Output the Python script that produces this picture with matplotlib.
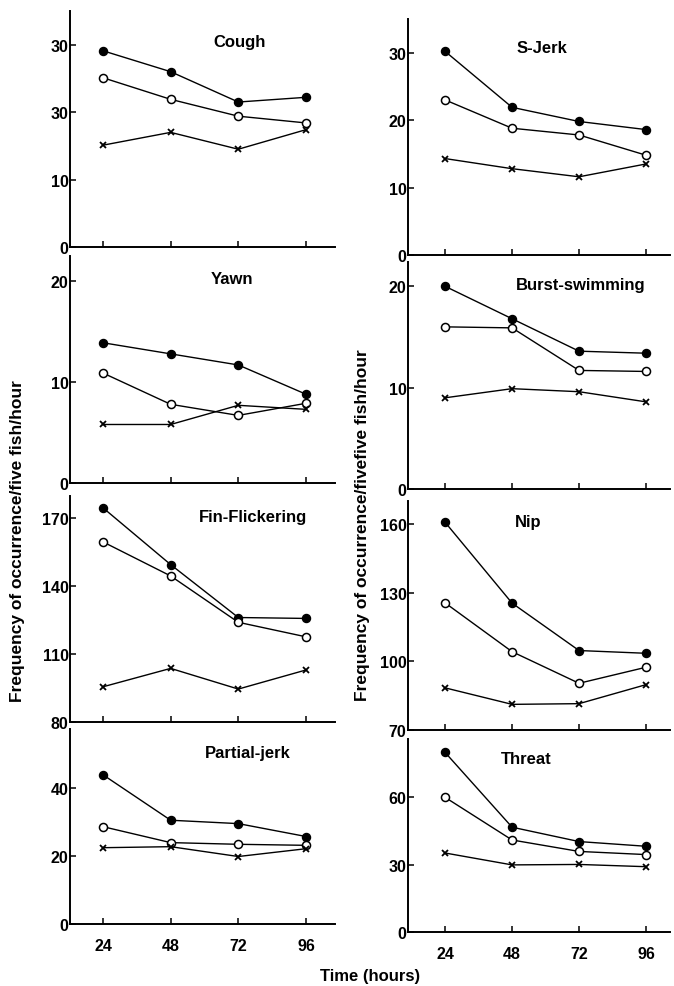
import matplotlib
matplotlib.use("Agg")
import matplotlib.pyplot as plt

plt.rcParams['font.family'] = ['Liberation Sans', 'DejaVu Sans']
plt.rcParams['font.weight'] = 'bold'

hours = [24, 48, 72, 96]

# values: filled circles, open circles, crosses
cough_filled = [29.1, 26.0, 21.5, 22.2]
cough_open = [25.1, 21.9, 19.4, 18.4]
cough_cross = [15.1, 17.0, 14.5, 17.4]

sjerk_filled = [30.2, 21.9, 19.8, 18.6]
sjerk_open = [23.0, 18.8, 17.8, 14.8]
sjerk_cross = [14.3, 12.8, 11.6, 13.5]

yawn_filled = [13.9, 12.8, 11.7, 8.8]
yawn_open = [10.9, 7.8, 6.7, 7.9]
yawn_cross = [5.8, 5.8, 7.7, 7.3]

burst_filled = [20.0, 16.8, 13.6, 13.4]
burst_open = [16.0, 15.9, 11.7, 11.6]
burst_cross = [9.0, 9.9, 9.6, 8.6]

fin_filled = [174.3, 149.3, 126.0, 125.6]
fin_open = [159.3, 144.3, 123.9, 117.5]
fin_cross = [95.5, 103.6, 94.5, 102.9]

nip_filled = [160.7, 125.4, 104.7, 103.5]
nip_open = [125.5, 104.2, 90.4, 97.4]
nip_cross = [88.4, 81.2, 81.5, 89.8]

partial_filled = [44.0, 30.6, 29.6, 25.8]
partial_open = [28.7, 24.0, 23.5, 23.2]
partial_cross = [22.5, 22.8, 19.9, 22.2]

threat_filled = [80.0, 46.7, 40.3, 38.2]
threat_open = [60.0, 41.0, 35.9, 34.5]
threat_cross = [35.2, 29.9, 30.1, 29.1]

W, H = 674, 987
fig = plt.figure(figsize=(W / 100, H / 100), dpi=100)


def add_panel(px_left, px_right, px_top, px_bottom):
    return fig.add_axes([px_left / W, 1 - px_bottom / H,
                         (px_right - px_left) / W, (px_bottom - px_top) / H])


def draw(ax, filled, opened, cross, title, tpos, ylim, yticks, yticklabels, xlim, show_x):
    ax.plot(hours, filled, color='black', lw=1.0, marker='o', ms=5.8,
            mfc='black', mec='black', zorder=3)
    ax.plot(hours, opened, color='black', lw=1.0, marker='o', ms=5.8,
            mfc='white', mec='black', mew=1.1, zorder=3)
    ax.plot(hours, cross, color='black', lw=1.0, marker='x', ms=5,
            mew=1.3, zorder=3)
    ax.set_xlim(*xlim)
    ax.set_ylim(*ylim)
    ax.set_xticks(hours)
    ax.set_yticks(yticks)
    ax.set_yticklabels(yticklabels)
    if not show_x:
        ax.set_xticklabels([])
    for s in ['top', 'right']:
        ax.spines[s].set_visible(False)
    for s in ['left', 'bottom']:
        ax.spines[s].set_linewidth(1.4)
    ax.tick_params(direction='in', length=4, width=1.1, labelsize=11.5)
    ax.tick_params(axis='y', pad=1)
    ax.tick_params(axis='x', pad=10)
    ax.text(tpos[0], tpos[1], title, transform=ax.transAxes, ha='center',
            va='center', fontsize=12, fontweight='bold')


lx = (70, 335)
rx = (408, 670)
lxlim = (12.3, 106.3)
rxlim = (10.7, 104.6)

ax = add_panel(lx[0], lx[1], 12, 248)
draw(ax, cough_filled, cough_open, cough_cross, 'Cough', (0.64, 0.87),
     (0, 35), [0, 10, 20, 30], ['0', '10', '30', '30'], lxlim, False)

ax = add_panel(rx[0], rx[1], 20, 256)
draw(ax, sjerk_filled, sjerk_open, sjerk_cross, 'S-Jerk', (0.51, 0.88),
     (0, 35), [0, 10, 20, 30], ['0', '10', '20', '30'], rxlim, False)

ax = add_panel(lx[0], lx[1], 257, 484)
draw(ax, yawn_filled, yawn_open, yawn_cross, 'Yawn', (0.61, 0.90),
     (0, 22.5), [0, 10, 20], ['0', '10', '20'], lxlim, False)

ax = add_panel(rx[0], rx[1], 263, 490)
draw(ax, burst_filled, burst_open, burst_cross, 'Burst-swimming', (0.66, 0.90),
     (0, 22.4), [0, 10, 20], ['0', '10', '20'], rxlim, False)

ax = add_panel(lx[0], lx[1], 497, 723)
draw(ax, fin_filled, fin_open, fin_cross, 'Fin-Flickering', (0.69, 0.91),
     (80, 179.5), [80, 110, 140, 170], ['80', '110', '140', '170'], lxlim, False)

ax = add_panel(rx[0], rx[1], 502, 731)
draw(ax, nip_filled, nip_open, nip_cross, 'Nip', (0.46, 0.91),
     (70, 170), [70, 100, 130, 160], ['70', '100', '130', '160'], rxlim, False)

ax = add_panel(lx[0], lx[1], 730, 925)
draw(ax, partial_filled, partial_open, partial_cross, 'Partial-jerk', (0.67, 0.88),
     (0, 57.5), [0, 20, 40], ['0', '20', '40'], lxlim, True)

ax = add_panel(rx[0], rx[1], 740, 933)
draw(ax, threat_filled, threat_open, threat_cross, 'Threat', (0.45, 0.90),
     (0, 86), [0, 30, 60], ['0', '30', '60'], rxlim, True)

fig.text(18 / W, 1 - 541 / H, 'Frequency of occurrence/five fish/hour',
         rotation=90, ha='center', va='center', fontsize=12.5, fontweight='bold')
fig.text(362 / W, 1 - 525 / H, 'Frequency of occurrence/fivefive fish/hour',
         rotation=90, ha='center', va='center', fontsize=12.5, fontweight='bold')
fig.text(370 / W, 1 - 977 / H, 'Time (hours)', ha='center', va='center',
         fontsize=12, fontweight='bold')

fig.savefig('out.png', dpi=100)
